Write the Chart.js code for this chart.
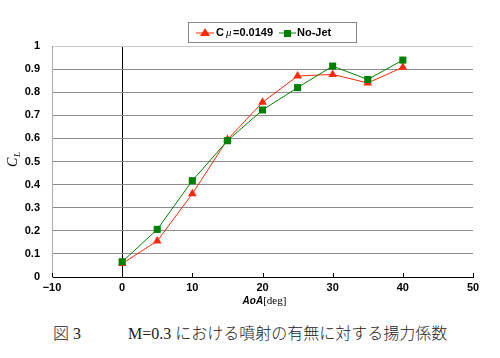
<!DOCTYPE html>
<html>
<head>
<meta charset="utf-8">
<script src="https://cdn.jsdelivr.net/npm/chart.js@4.4.0/dist/chart.umd.min.js"></script>
<style>
  body { margin: 0; background: #fff; width: 500px; height: 358px; overflow: hidden; }
  #wrap { position: absolute; left: 0; top: 0; width: 500px; height: 318px; }
  #cap { position: absolute; top: 320px; left: 53px; font-size: 16px; color: #222; white-space: nowrap;
         font-family: "Liberation Serif", "Noto Sans CJK JP", serif; }
  #cap .jp { font-family: "Noto Sans CJK JP", sans-serif; font-weight: 300; }
</style>
</head>
<body>
<div id="wrap"><canvas id="mycanvas"></canvas></div>
<div id="cap"><span class="jp">図</span> 3<span style="display:inline-block;width:47px"></span>M=0.3 <span class="jp">における噴射の有無に対する揚力係数</span></div>
<script>
var aoa = [0, 5, 10, 15, 20, 25, 30, 35, 40];
var clJet = [0.058, 0.156, 0.36, 0.595, 0.756, 0.87, 0.877, 0.84, 0.908];
var clNoJet = [0.066, 0.206, 0.417, 0.59, 0.723, 0.82, 0.913, 0.855, 0.939];
var labelJet = 'C\u03bc=0.0149';
var labelNoJet = 'No-Jet';

var red = 'rgb(255,40,10)';
var green = 'rgb(0,128,0)';

function pts(xs, ys) {
    var out = [];
    for (var i in xs) out.push({x: xs[i], y: ys[i]});
    return out;
}

var extras = {
    id: 'extras',
    afterDraw: function(chart) {
        var ctx = chart.ctx;
        var xs = chart.scales.x;
        var a = chart.chartArea;
        ctx.save();
        // inward x ticks
        ctx.strokeStyle = '#000';
        ctx.lineWidth = 1;
        for (var v = -10; v <= 50; v += 10) {
            var px = Math.round(xs.getPixelForValue(v)) + 0.5;
            ctx.beginPath();
            ctx.moveTo(px, a.bottom);
            ctx.lineTo(px, a.bottom - 4);
            ctx.stroke();
        }
        // axis titles
        ctx.fillStyle = '#000';
        ctx.textBaseline = 'alphabetic';
        var t1 = 'AoA';
        ctx.font = 'bold italic 10px "Liberation Sans"';
        var w1 = ctx.measureText(t1).width;
        ctx.font = '11px "Liberation Serif"';
        var w2 = ctx.measureText('[deg]').width;
        var cx = (a.left + a.right) / 2 - (w1 + w2) / 2 + 2;
        ctx.font = 'bold italic 10px "Liberation Sans"';
        ctx.fillText(t1, cx, 304);
        ctx.font = '11px "Liberation Serif"';
        ctx.fillText('[deg]', cx + w1, 304);
        // y title C_L rotated
        ctx.translate(17, 161);
        ctx.rotate(-Math.PI / 2);
        ctx.font = 'italic 14px "Liberation Serif"';
        ctx.fillText('C', -6, 0);
        ctx.font = 'italic 9px "Liberation Serif"';
        ctx.fillText('L', 4, 3);
        ctx.restore();

        // legend
        ctx.save();
        var lx = 188, ly = 22, lw = 168, lh = 20;
        ctx.fillStyle = '#fff';
        ctx.fillRect(lx, ly, lw, lh);
        ctx.strokeStyle = '#888';
        ctx.strokeRect(lx + 0.5, ly + 0.5, lw, lh);
        var my = ly + 11;
        ctx.strokeStyle = red; ctx.fillStyle = red;
        ctx.beginPath(); ctx.moveTo(196, my); ctx.lineTo(214, my); ctx.stroke();
        ctx.beginPath(); ctx.moveTo(205, my - 5); ctx.lineTo(210, my + 3); ctx.lineTo(200, my + 3); ctx.closePath(); ctx.fill();
        ctx.fillStyle = '#000';
        ctx.font = 'bold 11px "Liberation Sans"';
        ctx.textBaseline = 'middle';
        ctx.fillText('C', 216, my);
        ctx.font = 'italic 11px "Liberation Serif"';
        ctx.fillText('\u03bc', 226, my);
        ctx.font = 'bold 11px "Liberation Sans"';
        ctx.fillText('=0.0149', 233, my);
        ctx.strokeStyle = green; ctx.fillStyle = green;
        ctx.beginPath(); ctx.moveTo(279, my); ctx.lineTo(296, my); ctx.stroke();
        ctx.fillRect(284, my - 3, 7, 7);
        ctx.fillStyle = '#000';
        ctx.font = 'bold 11px "Liberation Sans"';
        ctx.fillText('No-Jet', 297, my);
        ctx.restore();
    }
};

var chartdata = {
    datasets: [
        {
            label: labelJet,
            data: pts(aoa, clJet),
            borderColor: red,
            backgroundColor: red,
            borderWidth: 1,
            pointStyle: 'triangle',
            pointRadius: 5,
            pointBorderWidth: 0,
            order: 2
        },
        {
            label: labelNoJet,
            data: pts(aoa, clNoJet),
            borderColor: green,
            backgroundColor: green,
            borderWidth: 1,
            pointStyle: 'rect',
            pointRadius: 5,
            pointBorderWidth: 0,
            order: 1
        }
    ]
};

var ctx = document.getElementById('mycanvas');
var lineGraph = new Chart(ctx, {
    type: 'line',
    data: chartdata,
    plugins: [extras],
    options: {
        responsive: true,
        maintainAspectRatio: false,
        animation: false,
        layout: { padding: { top: 46, right: 27, left: 0, bottom: 0 } },
        plugins: { legend: { display: false }, tooltip: { enabled: false } },
        scales: {
            x: {
                type: 'linear',
                min: -10, max: 50,
                afterFit: function(s) { s.height = 41; },
                ticks: {
                    stepSize: 10,
                    color: '#000',
                    padding: 4,
                    font: { family: '"Liberation Sans"', size: 11, weight: 'bold' },
                    callback: function(v) { return String(v).replace('-', '\u2212'); }
                },
                grid: {
                    drawTicks: false,
                    color: function(c) { return c.tick && c.tick.value === 0 ? '#000' : 'rgba(0,0,0,0)'; },
                    lineWidth: 1
                },
                border: { color: '#000', width: 1 }
            },
            y: {
                min: 0, max: 1,
                afterFit: function(s) { s.width = 52; },
                ticks: {
                    stepSize: 0.1,
                    color: '#000',
                    padding: 12,
                    font: { family: '"Liberation Sans"', size: 11, weight: 'bold' },
                    callback: function(v) { return String(Math.round(v * 10) / 10); }
                },
                grid: {
                    drawTicks: false,
                    color: function(c) { return c.tick && c.tick.value === 1 ? '#ccc' : '#8c8c8c'; },
                    lineWidth: 1
                },
                border: { color: '#aaa', width: 1 }
            }
        }
    }
});
</script>
</body>
</html>
